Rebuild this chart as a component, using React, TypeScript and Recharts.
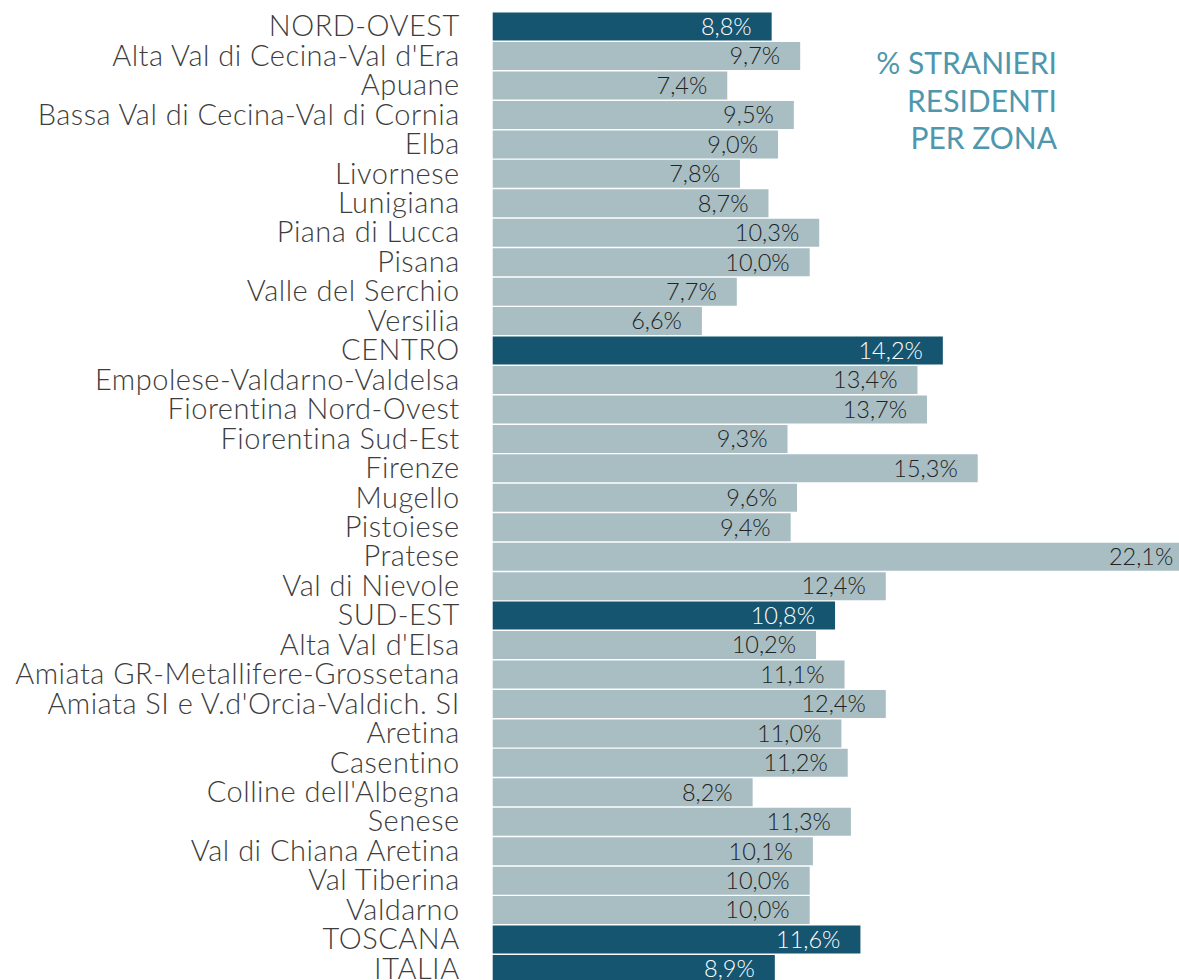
import { BarChart, Bar, XAxis, YAxis, Cell, LabelList } from "recharts";

// zone names top to bottom, as in the table
const zones = [
  "NORD-OVEST",
  "Alta Val di Cecina-Val d'Era",
  "Apuane",
  "Bassa Val di Cecina-Val di Cornia",
  "Elba",
  "Livornese",
  "Lunigiana",
  "Piana di Lucca",
  "Pisana",
  "Valle del Serchio",
  "Versilia",
  "CENTRO",
  "Empolese-Valdarno-Valdelsa",
  "Fiorentina Nord-Ovest",
  "Fiorentina Sud-Est",
  "Firenze",
  "Mugello",
  "Pistoiese",
  "Pratese",
  "Val di Nievole",
  "SUD-EST",
  "Alta Val d'Elsa",
  "Amiata GR-Metallifere-Grossetana",
  "Amiata SI e V.d'Orcia-Valdich. SI",
  "Aretina",
  "Casentino",
  "Colline dell'Albegna",
  "Senese",
  "Val di Chiana Aretina",
  "Val Tiberina",
  "Valdarno",
  "TOSCANA",
  "ITALIA",
];

// % stranieri residenti
const shares = [
  8.8, 9.7, 7.4, 9.5, 9.0, 7.8, 8.7, 10.3, 10.0, 7.7, 6.6,
  14.2, 13.4, 13.7, 9.3, 15.3, 9.6, 9.4, 22.1, 12.4,
  10.8, 10.2, 11.1, 12.4, 11.0, 11.2, 8.2, 11.3, 10.1, 10.0, 10.0,
  11.6, 8.9,
];

// aggregate rows drawn in dark blue
const totals = ["NORD-OVEST", "CENTRO", "SUD-EST", "TOSCANA", "ITALIA"];

const data = zones.map((zone, i) => ({
  zone,
  share: shares[i],
  total: totals.includes(zone),
}));

const DARK = "#155570";
const LIGHT = "#a8bec3";
const FONT = "Lato, 'Liberation Sans', sans-serif";

const fmt = (v: number) => v.toFixed(1).replace(".", ",") + "%";

const ZoneTick = (props: any) => {
  const { x, y, payload } = props;
  return (
    <text
      x={x}
      y={y}
      dy={10}
      textAnchor="end"
      fontSize={29}
      fontWeight={300}
      letterSpacing={0.5}
      fill="#3d3d3d"
      fontFamily={FONT}
    >
      {payload.value}
    </text>
  );
};

const ValueLabel = (props: any) => {
  const { x, y, width, height, value } = props;
  const idx = props.index ?? shares.indexOf(value);
  const dark = data[idx]?.total;
  return (
    <text
      x={x + width - 20}
      y={y + height / 2}
      dy={8.3}
      textAnchor="end"
      fontSize={23.5}
      fontWeight={300}
      fill={dark ? "#ffffff" : "#222222"}
      fontFamily={FONT}
    >
      {fmt(value)}
    </text>
  );
};

export default function App() {
  return (
    <div
      style={{
        position: "fixed",
        left: 0,
        top: 0,
        width: 1179,
        height: 980,
        overflow: "hidden",
        background: "#fff",
      }}
    >
      <BarChart
        width={1300}
        height={1000}
        data={data}
        layout="vertical"
        margin={{ top: 11.6, right: 14.8, bottom: 16.55, left: 0 }}
      >
        <XAxis type="number" domain={[0, 25]} hide />
        <YAxis
          type="category"
          dataKey="zone"
          width={492.7}
          interval={0}
          axisLine={false}
          tickLine={false}
          tickSize={0}
          tickMargin={33}
          tick={<ZoneTick />}
        />
        <Bar dataKey="share" barSize={28} isAnimationActive={false}>
          {data.map((d) => (
            <Cell key={d.zone} fill={d.total ? DARK : LIGHT} />
          ))}
          <LabelList dataKey="share" content={<ValueLabel />} />
        </Bar>
      </BarChart>
      <div
        style={{
          position: "absolute",
          left: 0,
          top: 44,
          width: 1057,
          textAlign: "right",
          fontFamily: FONT,
          fontSize: 30,
          lineHeight: "37.5px",
          color: "#4f97ad",
        }}
      >
        % STRANIERI
        <br />
        RESIDENTI
        <br />
        PER ZONA
      </div>
    </div>
  );
}
